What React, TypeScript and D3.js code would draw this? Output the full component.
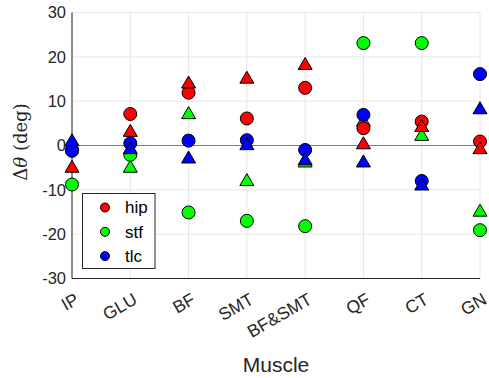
import { useEffect, useRef } from "react";
import * as d3 from "d3";

const muscles = ["IP", "GLU", "BF", "SMT", "BF&SMT", "QF", "CT", "GN"];
const yTicks = [-30, -20, -10, 0, 10, 20, 30];

// circle markers
const hipCircle = [-1, 7.1, 11.9, 6.1, 13, 3.9, 5.4, 0.9];
const stfCircle = [-8.8, -2.1, -15.1, -17, -18.2, 23.1, 23.1, -19.1];
const tlcCircle = [-1.2, 0.5, 1.1, 1.2, -1, 6.9, -8, 16.1];

// triangle markers
const hipTri = [-4.8, 3.3, 14.2, 15.3, 18.4, 0.5, 4.4, -0.6];
const stfTri = [0.3, -4.8, 7.3, -7.8, -3.6, 5.6, 2.4, -14.7];
const tlcTri = [1.2, -0.6, -2.7, 0.3, -3.1, -3.6, -8.8, 8.4];

const legendItems = [
    { label: "hip", color: "#ff0000" },
    { label: "stf", color: "#00ff00" },
    { label: "tlc", color: "#0000ff" },
];

const App = () => {
    const ref = useRef<SVGSVGElement | null>(null);

    useEffect(() => {
        const svg = d3.select(ref.current);
        svg.selectAll("*").remove();

        const font = "'Liberation Sans', Arial, sans-serif";
        const left = 72, right = 480, top = 12.5, bottom = 278.5;

        const x = d3.scalePoint<string>().domain(muscles).range([left, right]);
        const y = d3.scaleLinear().domain([-30, 30]).range([bottom, top]);

        // grid
        const grid = svg.append("g").attr("stroke", "#e6e6e6").attr("stroke-width", 1);
        yTicks.forEach(t => {
            grid.append("line").attr("x1", left).attr("x2", right).attr("y1", y(t)).attr("y2", y(t));
        });
        muscles.forEach(m => {
            grid.append("line").attr("x1", x(m)!).attr("x2", x(m)!).attr("y1", top).attr("y2", bottom);
        });

        // zero line
        svg.append("line")
            .attr("x1", left).attr("x2", right)
            .attr("y1", y(0)).attr("y2", y(0))
            .attr("stroke", "#7f7f7f").attr("stroke-width", 1);

        // axes lines
        svg.append("line").attr("x1", left).attr("x2", left).attr("y1", top).attr("y2", bottom)
            .attr("stroke", "#262626");
        svg.append("line").attr("x1", left).attr("x2", right).attr("y1", bottom).attr("y2", bottom)
            .attr("stroke", "#262626");

        // y tick labels
        svg.append("g").selectAll("text").data(yTicks).enter().append("text")
            .attr("x", left - 6)
            .attr("y", d => y(d))
            .attr("dy", "0.35em")
            .attr("text-anchor", "end")
            .attr("font-family", font)
            .attr("font-size", "16.5px")
            .attr("fill", "#262626")
            .text(d => d);

        // x tick labels
        svg.append("g").selectAll("text").data(muscles).enter().append("text")
            .attr("transform", d => `translate(${x(d)! + 5},${bottom + 19}) rotate(-30)`)
            .attr("text-anchor", "end")
            .attr("dy", "0.35em")
            .attr("font-family", font)
            .attr("font-size", "17.5px")
            .attr("fill", "#262626")
            .text(d => d);

        // axis titles
        svg.append("text")
            .attr("x", 276)
            .attr("y", 372)
            .attr("text-anchor", "middle")
            .attr("font-family", font)
            .attr("font-size", "21px")
            .attr("fill", "#262626")
            .text("Muscle");

        const yl = svg.append("text")
            .attr("transform", `translate(27,142) rotate(-90)`)
            .attr("text-anchor", "middle")
            .attr("font-family", "'DejaVu Serif', 'Liberation Serif', serif")
            .attr("font-size", "18px")
            .attr("fill", "#262626");
        yl.append("tspan").text("Δ");
        yl.append("tspan").attr("font-style", "italic").text("θ");
        yl.append("tspan").text(" (deg)");

        const tri = "M0,-6.5L7,5.5L-7,5.5Z";

        const drawCircles = (vals: number[], color: string) => {
            svg.append("g").selectAll("circle").data(vals).enter().append("circle")
                .attr("cx", (_, i) => x(muscles[i])!)
                .attr("cy", d => y(d))
                .attr("r", 6.5)
                .attr("fill", color)
                .attr("stroke", "#000")
                .attr("stroke-width", 1);
        };
        const drawTris = (vals: number[], color: string) => {
            svg.append("g").selectAll("path").data(vals).enter().append("path")
                .attr("transform", (d, i) => `translate(${x(muscles[i])},${y(d)})`)
                .attr("d", tri)
                .attr("fill", color)
                .attr("stroke", "#000")
                .attr("stroke-width", 1);
        };

        drawTris(stfTri, "#00ff00");
        drawCircles(hipCircle, "#ff0000");
        drawCircles(stfCircle, "#00ff00");
        drawCircles(tlcCircle, "#0000ff");
        drawTris(hipTri, "#ff0000");
        drawTris(tlcTri, "#0000ff");

        // legend
        const lg = svg.append("g");
        lg.append("rect")
            .attr("x", 82.5).attr("y", 193.5)
            .attr("width", 72.5).attr("height", 75)
            .attr("fill", "#fff")
            .attr("stroke", "#262626")
            .attr("stroke-width", 1);
        legendItems.forEach((it, i) => {
            const cy = 207.5 + i * 24.3;
            lg.append("circle")
                .attr("cx", 105).attr("cy", cy).attr("r", 4.5)
                .attr("fill", it.color).attr("stroke", "#000").attr("stroke-width", 1);
            lg.append("text")
                .attr("x", 125).attr("y", cy)
                .attr("dy", "0.35em")
                .attr("font-family", font)
                .attr("font-size", "17px")
                .attr("fill", "#000")
                .text(it.label);
        });
    }, []);

    return (
        <svg
            ref={ref}
            width={489}
            height={378}
            style={{ position: "absolute", left: 0, top: 0, background: "#fff" }}
        />
    );
};

export default App;
